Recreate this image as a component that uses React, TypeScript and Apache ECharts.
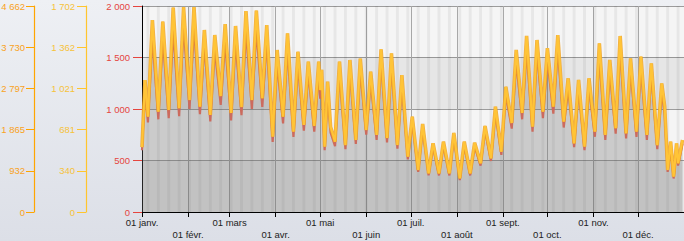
import React, { useEffect, useRef } from "react";
import * as echarts from "echarts";

// Daily-consumption style series (peaks mid-week, troughs on Sundays)
const dates = [
  "2014-01-01","2014-01-03","2014-01-05","2014-01-08","2014-01-12","2014-01-15","2014-01-19","2014-01-22","2014-01-26","2014-01-29",
  "2014-02-02","2014-02-05","2014-02-09","2014-02-12","2014-02-16","2014-02-19","2014-02-23","2014-02-26",
  "2014-03-02","2014-03-05","2014-03-09","2014-03-12","2014-03-16","2014-03-19","2014-03-23","2014-03-26","2014-03-30",
  "2014-04-02","2014-04-06","2014-04-09","2014-04-13","2014-04-16","2014-04-20","2014-04-23","2014-04-27","2014-04-30",
  "2014-05-01","2014-05-02","2014-05-04","2014-05-06","2014-05-08","2014-05-11","2014-05-14","2014-05-18","2014-05-21","2014-05-25","2014-05-28",
  "2014-06-01","2014-06-04","2014-06-08","2014-06-11","2014-06-15","2014-06-18","2014-06-22","2014-06-25","2014-06-29",
  "2014-07-02","2014-07-06","2014-07-09","2014-07-13","2014-07-16","2014-07-20","2014-07-23","2014-07-27","2014-07-30",
  "2014-08-03","2014-08-06","2014-08-10","2014-08-13","2014-08-17","2014-08-20","2014-08-24","2014-08-27","2014-08-31",
  "2014-09-03","2014-09-07","2014-09-10","2014-09-14","2014-09-17","2014-09-21","2014-09-24","2014-09-28",
  "2014-10-01","2014-10-05","2014-10-08","2014-10-12","2014-10-15","2014-10-19","2014-10-22","2014-10-26","2014-10-29",
  "2014-11-02","2014-11-05","2014-11-09","2014-11-12","2014-11-16","2014-11-19","2014-11-23","2014-11-26","2014-11-30",
  "2014-12-03","2014-12-07","2014-12-10","2014-12-14","2014-12-17","2014-12-19","2014-12-21","2014-12-23","2014-12-25","2014-12-27","2014-12-28","2014-12-31",
];

const orangeValues = [
  630,1280,925,1864,974,1848,990,1985,1007,1990,
  1087,1990,1022,1767,942,1718,1126,1825,
  961,1806,1019,1950,1087,1955,1104,1815,731,
  1573,925,1735,780,1556,845,1460,835,1460,
  1184,1380,634,1265,825,683,1460,650,1476,699,1490,
  796,1362,748,1580,718,1540,650,1330,537,
  925,408,854,375,667,375,683,375,767,
  327,683,375,673,473,835,521,1022,585,
  1216,864,1573,961,1709,828,1670,974,
  1590,1022,1718,877,1298,667,1282,634,1298,
  780,1638,748,1476,813,1709,764,1492,780,
  1508,748,1444,650,1249,1022,408,683,343,667,473,699,
];

const redValues = [
  600,1200,870,1700,900,1690,910,1760,930,1810,
  1000,1800,950,1620,880,1580,1040,1660,
  890,1650,940,1760,1000,1770,1020,1660,680,
  1440,860,1580,730,1430,790,1350,780,1350,
  1100,1280,600,1170,770,640,1350,610,1370,660,1380,
  750,1270,700,1460,675,1430,615,1240,510,
  870,390,810,355,635,355,650,355,730,
  310,650,355,640,450,790,495,960,555,
  1140,810,1460,900,1580,780,1550,910,
  1480,955,1590,820,1210,630,1200,600,1210,
  730,1510,700,1370,760,1580,715,1385,730,
  1400,700,1340,610,1160,955,390,650,325,635,450,665,
];

const monthLabels = ["janv.", "févr.", "mars", "avr.", "mai", "juin", "juil.", "août", "sept.", "oct.", "nov.", "déc."];

const mainTicks = { min: 0, max: 2000, interval: 500 };
const yellowTicks = { min: 0, max: 1702, interval: 340.4 };
const orangeTicks = { min: 0, max: 4662, interval: 932.4 };

const DAY = 86400000;
const toTs = (s: string) => {
  const [y, m, d] = s.split("-").map(Number);
  return new Date(y, m - 1, d).getTime();
};
const fmtNum = (v: number) =>
  String(Math.round(v)).replace(/\B(?=(\d{3})+(?!\d))/g, " ");

export default function App() {
  const ref = useRef<HTMLDivElement>(null);

  useEffect(() => {
    if (!ref.current) return;
    const chart = echarts.init(ref.current, null, { renderer: "svg" });

    const xMin = new Date(2014, 0, 1).getTime();
    const xMax = new Date(2015, 0, 1).getTime();

    // weekend stripes (Sat 00:00 -> Mon 00:00)
    const weekendAreas: any[] = [];
    for (let t = xMin; t < xMax; t += DAY) {
      const d = new Date(t);
      if (d.getDay() === 6) {
        weekendAreas.push([
          { xAxis: t, itemStyle: { color: "rgba(0,0,0,0.055)" } },
          { xAxis: Math.min(t + 2 * DAY, xMax) },
        ]);
      }
    }
    const bandAreas = [
      [{ yAxis: 0, itemStyle: { color: "rgba(0,0,0,0.05)" } }, { yAxis: 500 }],
      [{ yAxis: 1000, itemStyle: { color: "rgba(0,0,0,0.06)" } }, { yAxis: 1500 }],
    ];

    const orangeData = dates.map((d, i) => [toTs(d), orangeValues[i]]);
    const redData = dates.map((d, i) => [toTs(d), redValues[i]]);

    const font = "'Liberation Sans', Arial, sans-serif";

    chart.setOption({
      animation: false,
      backgroundColor: "transparent",
      grid: {
        left: 142,
        right: 0,
        top: 6,
        bottom: 29,
        show: true,
        backgroundColor: "#f5f5f5",
        borderWidth: 0,
        containLabel: false,
        outerBoundsMode: "none",
      },
      xAxis: {
        type: "time",
        min: xMin,
        max: xMax,
        splitNumber: 12,
        minInterval: 28 * DAY,
        maxInterval: 31 * DAY,
        axisLine: { show: true, lineStyle: { color: "#000", width: 1 } },
        axisTick: { show: true, length: 5, lineStyle: { color: "#000" } },
        axisLabel: {
          fontSize: 9.5,
          fontFamily: font,
          color: "#222",
          margin: 4,
          lineHeight: 12.5,
          showMaxLabel: false,
          hideOverlap: false,
          formatter: (v: number) => {
            const d = new Date(v);
            const m = d.getMonth();
            const lbl = "01 " + monthLabels[m];
            return m % 2 === 1 ? "\n" + lbl : lbl;
          },
        },
        splitLine: { show: true, lineStyle: { color: "#a8a8a8", width: 1 } },
      },
      yAxis: [
        {
          type: "value",
          ...mainTicks,
          position: "left",
          offset: 0,
          axisLine: { show: true, lineStyle: { color: "#000", width: 1 } },
          axisTick: { show: true, length: 9, lineStyle: { color: "#E5453F" } },
          axisLabel: { color: "#E5453F", fontSize: 9.5, fontFamily: font, margin: 12, formatter: fmtNum },
          splitLine: { show: true, lineStyle: { color: "#9c9c9c", width: 1 } },
        },
        {
          type: "value",
          ...yellowTicks,
          position: "left",
          offset: 56,
          axisLine: { show: true, lineStyle: { color: "#FFC52E", width: 1.2 } },
          axisTick: { show: true, length: 9, lineStyle: { color: "#FFC52E" } },
          axisLabel: { color: "#F6C23A", fontSize: 9.5, fontFamily: font, margin: 11, formatter: fmtNum },
          splitLine: { show: false },
        },
        {
          type: "value",
          ...orangeTicks,
          position: "left",
          offset: 108,
          axisLine: { show: true, lineStyle: { color: "#FFA500", width: 1.2 } },
          axisTick: { show: true, length: 8, lineStyle: { color: "#FFA500" } },
          axisLabel: { color: "#F9A21C", fontSize: 9.5, fontFamily: font, margin: 9, formatter: fmtNum },
          splitLine: { show: false },
        },
      ],
      series: [
        {
          name: "bands",
          type: "line",
          data: [],
          z: 1,
          silent: true,
          symbol: "none",
          markArea: { silent: true, data: [...bandAreas, ...weekendAreas] },
        },
        {
          name: "total",
          type: "line",
          data: redData,
          z: 2,
          symbol: "none",
          lineStyle: { width: 0 },
          areaStyle: { color: "rgba(110,110,110,0.45)" },
        },
        {
          name: "rouge",
          type: "line",
          data: redData,
          z: 3,
          symbol: "none",
          lineStyle: { color: "#CC6B5E", width: 2.2 },
        },
        {
          name: "orange-dark",
          type: "line",
          data: orangeData,
          z: 4,
          symbol: "none",
          lineStyle: { color: "#EFA024", width: 3.6, opacity: 0.85 },
        },
        {
          name: "orange",
          type: "line",
          data: orangeData,
          z: 5,
          symbol: "none",
          lineStyle: { color: "#FFC437", width: 2.2 },
        },
      ],
    });

    return () => chart.dispose();
  }, []);

  return (
    <div
      style={{
        position: "fixed",
        left: 0,
        top: 0,
        width: 684,
        height: 241,
        background: "linear-gradient(#eef0f4, #dcdfe7)",
      }}
    >
      <div ref={ref} style={{ width: 684, height: 241 }} />
    </div>
  );
}
